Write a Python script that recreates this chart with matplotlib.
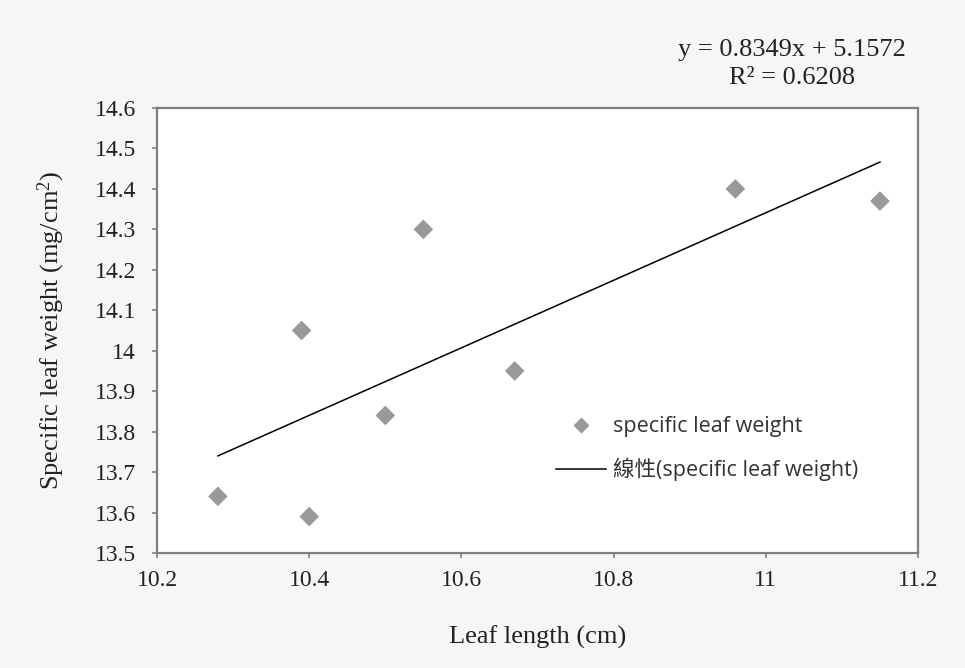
import matplotlib
matplotlib.use("Agg")
import matplotlib.pyplot as plt
from matplotlib.ticker import FuncFormatter
from matplotlib.lines import Line2D
import numpy as np

# data
leaf_length = [10.28, 10.39, 10.40, 10.50, 10.55, 10.67, 10.96, 11.15]
specific_leaf_weight = [13.64, 14.05, 13.59, 13.84, 14.30, 13.95, 14.40, 14.37]
slope = 0.8349
intercept = 5.1572
r_squared = 0.6208
x_ticks = [10.2, 10.4, 10.6, 10.8, 11.0, 11.2]
y_ticks = [13.5, 13.6, 13.7, 13.8, 13.9, 14.0, 14.1, 14.2, 14.3, 14.4, 14.5, 14.6]

plt.rcParams['mathtext.fontset'] = 'custom'
plt.rcParams['mathtext.rm'] = 'Liberation Serif'
plt.rcParams['mathtext.it'] = 'Liberation Serif:italic'

serif = 'Liberation Serif'
gray_spine = '#7f7f7f'
txt = '#222222'

fig = plt.figure(figsize=(9.65, 6.68), dpi=100, facecolor='#f6f6f6')
ax = fig.add_axes([0.1627, 0.1722, 0.9513 - 0.1627, 0.8383 - 0.1722])
ax.set_facecolor('white')

ax.scatter(leaf_length, specific_leaf_weight, marker='D', s=10**2,
           color='#999999', edgecolors='none', zorder=3)

xs = np.array([min(leaf_length), max(leaf_length)])
ax.plot(xs, slope * xs + intercept, color='black', lw=1.1, zorder=2)

ax.set_xlim(10.2, 11.2)
ax.set_ylim(13.5, 14.6)
ax.set_xticks(x_ticks)
ax.set_yticks(y_ticks)
ax.xaxis.set_major_formatter(FuncFormatter(lambda v, p: f"{round(v, 1):g}"))
ax.yaxis.set_major_formatter(FuncFormatter(lambda v, p: f"{round(v, 1):g}"))

for s in ax.spines.values():
    s.set_color(gray_spine)
    s.set_linewidth(1.6)

ax.tick_params(axis='both', direction='out', length=3.6, width=1.2, color=gray_spine,
               labelsize=17, labelcolor=txt)
ax.tick_params(axis='x', pad=8.5)
ax.tick_params(axis='y', pad=11.5)
for lab in ax.get_xticklabels() + ax.get_yticklabels():
    lab.set_fontfamily(serif)

ax.set_xlabel('Leaf length (cm)', fontsize=19, fontfamily=serif, color=txt, labelpad=25)
ax.set_ylabel('Specific leaf weight (mg/cm$^{2}$)', fontsize=19, fontfamily=serif,
              color=txt, labelpad=20)

fig.text(792 / 965, 1 - 50 / 668, f'y = {slope}x + {intercept}', ha='center', va='center',
         fontsize=19, fontfamily=serif, color=txt)
fig.text(792 / 965, 1 - 78 / 668, f'R² = {r_squared}', ha='center', va='center',
         fontsize=19, fontfamily=serif, color=txt)

handles = [
    Line2D([], [], marker='D', ls='none', color='#999999', markeredgecolor='none', markersize=8.5),
    Line2D([], [], color='black', lw=1.1),
]
labels = ['specific leaf weight', '線性(specific leaf weight)']
leg = ax.legend(handles, labels, frameon=False, loc='upper left',
                bbox_to_anchor=(537 / 965, 1 - 397 / 668), bbox_transform=fig.transFigure,
                handlelength=2.3, handletextpad=0.35, labelspacing=0.95,
                prop={'family': ['Open Sans', 'Noto Sans CJK TC'], 'size': 15.5})
for t in leg.get_texts():
    t.set_color('#333333')

fig.savefig('out.png', dpi=100, facecolor=fig.get_facecolor())
